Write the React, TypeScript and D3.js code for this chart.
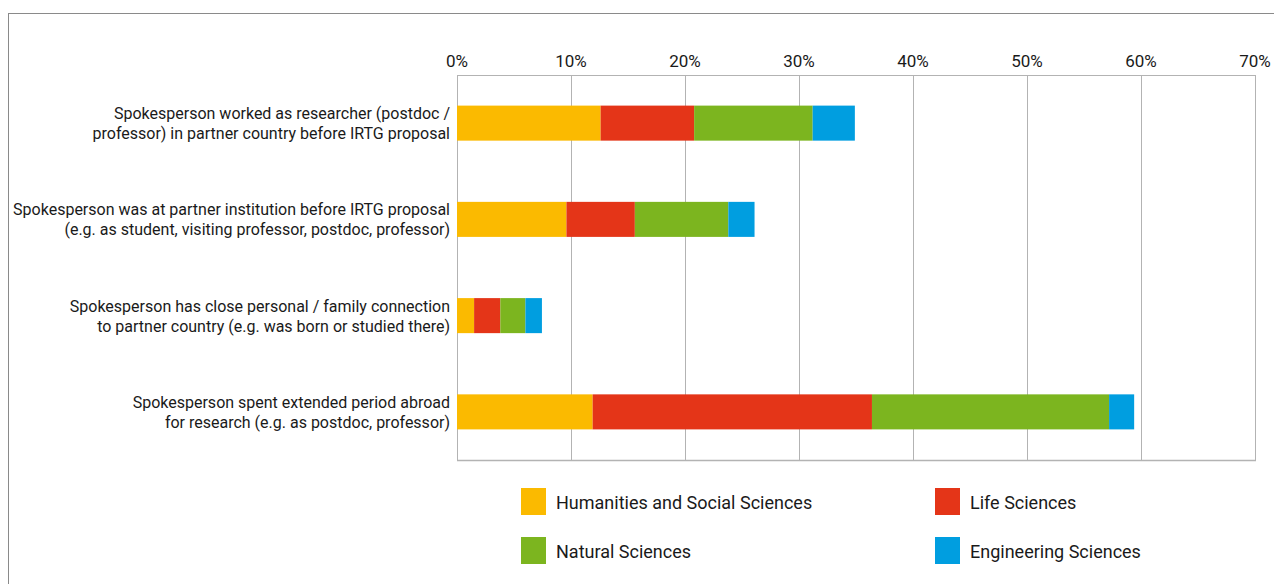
import * as d3 from "d3";
import React from "react";

// categories, each label split in two lines
const categories = [
  ["Spokesperson worked as researcher (postdoc /", "professor) in partner country before IRTG proposal"],
  ["Spokesperson was at partner institution before IRTG proposal", "(e.g. as student, visiting professor, postdoc, professor)"],
  ["Spokesperson has close personal / family connection", "to partner country (e.g. was born or studied there)"],
  ["Spokesperson spent extended period abroad", "for research (e.g. as postdoc, professor)"],
];

const seriesNames = ["Humanities and Social Sciences", "Life Sciences", "Natural Sciences", "Engineering Sciences"];
const humanities = [12.6, 9.6, 1.5, 11.9];
const life = [8.2, 6.0, 2.3, 24.5];
const natural = [10.4, 8.2, 2.2, 20.8];
const engineering = [3.7, 2.3, 1.45, 2.2];
const ticks = [0, 10, 20, 30, 40, 50, 60, 70];

const colors = ["#fbba00", "#e43518", "#7cb51f", "#009ee0"];

const W = 1274;
const H = 576;
const FONT = "Roboto, sans-serif";

export default function App() {
  const x = d3.scaleLinear().domain([0, 70]).range([449, 1247]);
  const y = d3
    .scaleBand<number>()
    .domain(d3.range(categories.length))
    .range([67, 452])
    .paddingInner(0.636)
    .paddingOuter(0.318);

  const rows = categories.map((_, i) => ({
    idx: i,
    h: humanities[i],
    l: life[i],
    n: natural[i],
    e: engineering[i],
  }));
  const stacked = d3.stack<any>().keys(["h", "l", "n", "e"])(rows);

  return (
    <svg width={W} height={H} style={{ display: "block" }} fontFamily={FONT}>
      {/* outer frame */}
      <rect x={0.5} y={5.5} width={W + 20} height={H + 20} fill="none" stroke="#8a8a8a" strokeWidth={1} />

      {/* grid lines */}
      {ticks.map((t) => (
        <line key={t} x1={Math.round(x(t)) + 0.5} x2={Math.round(x(t)) + 0.5} y1={67} y2={452} stroke="#b3b3b3" strokeWidth={1} />
      ))}
      <line x1={449} x2={1248} y1={67.5} y2={67.5} stroke="#b3b3b3" />
      <line x1={449} x2={1248} y1={452.5} y2={452.5} stroke="#b3b3b3" strokeWidth={1.5} />

      {/* tick labels */}
      {ticks.map((t) => (
        <text key={t} x={x(t)} y={59} textAnchor="middle" fontSize={17} fill="#1a1a1a">
          {t}%
        </text>
      ))}

      {/* bars */}
      {stacked.map((s, si) =>
        s.map((d, i) => (
          <rect
            key={si + "-" + i}
            x={x(d[0])}
            y={y(i)!}
            width={x(d[1]) - x(d[0])}
            height={y.bandwidth()}
            fill={colors[si]}
          />
        ))
      )}

      {/* category labels */}
      {categories.map((lines, i) => {
        const cy = y(i)! + y.bandwidth() / 2;
        return (
          <text key={i} x={442} textAnchor="end" fontSize={16} fill="#1a1a1a">
            <tspan x={442} y={cy - 4}>{lines[0]}</tspan>
            <tspan x={442} y={cy + 16}>{lines[1]}</tspan>
          </text>
        );
      })}

      {/* legend */}
      {seriesNames.map((name, i) => {
        const lx = i % 2 === 0 ? 513 : 927;
        const ly = i < 2 ? 480 : 529;
        return (
          <g key={name}>
            <rect x={lx} y={ly} width={25} height={27} fill={colors[i]} />
            <text x={lx + 35} y={ly + 21} fontSize={18} fill="#1a1a1a">
              {name}
            </text>
          </g>
        );
      })}
    </svg>
  );
}
